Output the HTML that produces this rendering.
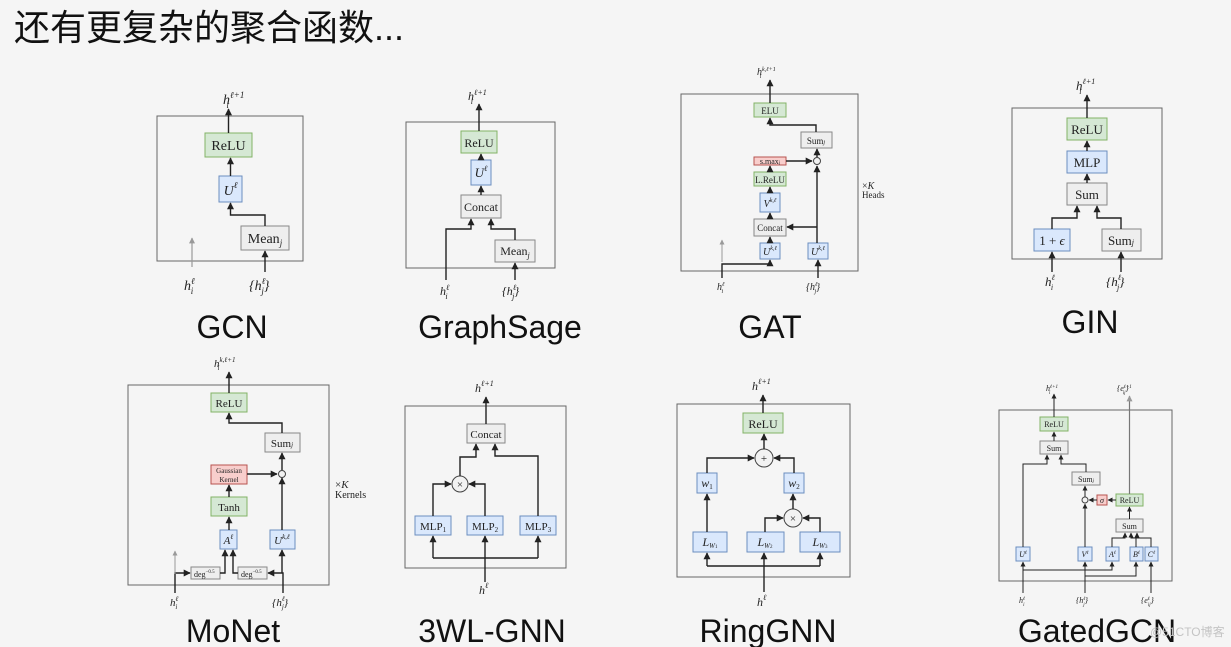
<!DOCTYPE html>
<html><head><meta charset="utf-8">
<style>
html,body{margin:0;padding:0;background:#f5f5f5;}
svg{display:block}
.t{font-family:"Liberation Sans","Noto Sans CJK SC",sans-serif;fill:#111}
.m{font-family:"Liberation Serif",serif;fill:#222}
.i{font-style:italic}
.ln{stroke:#222;stroke-width:1.4;fill:none}
.bx{fill:none;stroke:#666;stroke-width:1}
.g{fill:#d5e8d4;stroke:#82b366;stroke-width:1}
.b{fill:#dae8fc;stroke:#6c8ebf;stroke-width:1}
.y{fill:#eeeeee;stroke:#888;stroke-width:1}
.r{fill:#f8cecc;stroke:#b85450;stroke-width:1}
.c{fill:#f2f2f2;stroke:#444;stroke-width:1}
.cap{font-family:"Liberation Sans",sans-serif;font-size:32px;fill:#111;text-anchor:middle}
</style></head><body>
<svg width="1231" height="647" viewBox="0 0 1231 647" xmlns="http://www.w3.org/2000/svg">
<defs>
<marker id="a" viewBox="0 0 10 10" refX="9" refY="5" markerWidth="5" markerHeight="5" orient="auto-start-reverse"><path d="M0,0L10,5L0,10z" fill="#222"/></marker>
<marker id="ag" viewBox="0 0 10 10" refX="9" refY="5" markerWidth="5" markerHeight="5" orient="auto"><path d="M0,0L10,5L0,10z" fill="#999"/></marker>
</defs>
<rect width="1231" height="647" fill="#f5f5f5"/>
<text class="t" x="14" y="40" font-size="36">还有更复杂的聚合函数...</text>

<!-- GCN -->
<rect class="bx" x="157" y="116" width="146" height="145"/>
<rect class="g" x="205" y="133" width="47" height="24"/><text class="m" x="228.5" y="150" font-size="14" text-anchor="middle">ReLU</text>
<rect class="b" x="219" y="176" width="23" height="26"/><text class="m i" x="230.5" y="195" font-size="14" text-anchor="middle">U<tspan font-size="9" dy="-7">ℓ</tspan></text>
<rect class="y" x="241" y="226" width="48" height="24"/><text class="m" x="265" y="243" font-size="14" text-anchor="middle">Mean<tspan font-size="9" dy="3" font-style="italic">j</tspan></text>
<path class="ln" d="M265,226V215H230.5V203" marker-end="url(#a)"/>
<path class="ln" d="M230.5,176V158" marker-end="url(#a)"/>
<path class="ln" d="M228.5,133V109" marker-end="url(#a)"/>
<path d="M192,267V238" stroke="#999" stroke-width="1.2" marker-end="url(#ag)"/>
<path class="ln" d="M265,272V251" marker-end="url(#a)"/>
<text class="m i" x="223" y="104" font-size="14">h<tspan font-size="9" dy="-6">ℓ+1</tspan><tspan font-size="9" dx="-18" dy="10">i</tspan></text>
<text class="m i" x="184" y="290" font-size="14">h<tspan font-size="9" dy="-6">ℓ</tspan><tspan font-size="9" dx="-4" dy="10">i</tspan></text>
<text class="m i" x="249" y="290" font-size="14">{h<tspan font-size="9" dy="-6">ℓ</tspan><tspan font-size="9" dx="-4" dy="10">j</tspan><tspan dy="-4">}</tspan></text>
<text class="cap" x="232" y="338">GCN</text>

<!-- GraphSage -->
<rect class="bx" x="406" y="122" width="149" height="146"/>
<rect class="g" x="461" y="131" width="36" height="22"/><text class="m" x="479" y="147" font-size="12" text-anchor="middle">ReLU</text>
<rect class="b" x="471" y="160" width="20" height="25"/><text class="m i" x="481" y="177" font-size="13" text-anchor="middle">U<tspan font-size="8" dy="-6">ℓ</tspan></text>
<rect class="y" x="461" y="195" width="40" height="23"/><text class="m" x="481" y="211" font-size="12" text-anchor="middle">Concat</text>
<rect class="y" x="495" y="240" width="40" height="22"/><text class="m" x="515" y="255" font-size="12" text-anchor="middle">Mean<tspan font-size="8" dy="3" font-style="italic">j</tspan></text>
<path class="ln" d="M446,280V229H471V219" marker-end="url(#a)"/>
<path class="ln" d="M515,240V229H491V219" marker-end="url(#a)"/>
<path class="ln" d="M481,195V186" marker-end="url(#a)"/>
<path class="ln" d="M481,160V154" marker-end="url(#a)"/>
<path class="ln" d="M479,131V104" marker-end="url(#a)"/>
<path class="ln" d="M515,280V263" marker-end="url(#a)"/>
<text class="m i" x="468" y="100" font-size="12">h<tspan font-size="8" dy="-5">ℓ+1</tspan><tspan font-size="8" dx="-16" dy="9">i</tspan></text>
<text class="m i" x="440" y="295" font-size="12">h<tspan font-size="8" dy="-5">ℓ</tspan><tspan font-size="8" dx="-4" dy="9">i</tspan></text>
<text class="m i" x="502" y="295" font-size="12">{h<tspan font-size="8" dy="-5">ℓ</tspan><tspan font-size="8" dx="-4" dy="9">j</tspan><tspan dy="-4">}</tspan></text>
<text class="cap" x="500" y="338">GraphSage</text>

<!-- GAT -->
<rect class="bx" x="681" y="94" width="177" height="177"/>
<rect class="g" x="754" y="103" width="32" height="14"/><text class="m" x="770" y="114" font-size="9" text-anchor="middle">ELU</text>
<rect class="y" x="801" y="132" width="31" height="16"/><text class="m" x="816" y="144" font-size="9" text-anchor="middle">Sum<tspan font-size="6" font-style="italic">j</tspan></text>
<rect class="r" x="754" y="157" width="32" height="8"/><text class="m" x="770" y="164" font-size="8" text-anchor="middle">s.max<tspan font-size="5">j</tspan></text>
<rect class="g" x="754" y="172" width="32" height="14"/><text class="m" x="770" y="183" font-size="9" text-anchor="middle">L.ReLU</text>
<rect class="b" x="760" y="193" width="20" height="19"/><text class="m i" x="770" y="207" font-size="10" text-anchor="middle">V<tspan font-size="6" dy="-5">k,ℓ</tspan></text>
<rect class="y" x="754" y="219" width="32" height="17"/><text class="m" x="770" y="231" font-size="9" text-anchor="middle">Concat</text>
<rect class="b" x="760" y="243" width="20" height="16"/><text class="m i" x="770" y="255" font-size="10" text-anchor="middle">U<tspan font-size="6" dy="-5">k,ℓ</tspan></text>
<rect class="b" x="808" y="243" width="20" height="16"/><text class="m i" x="818" y="255" font-size="10" text-anchor="middle">U<tspan font-size="6" dy="-5">k,ℓ</tspan></text>
<circle class="c" cx="817" cy="161" r="3.5"/>
<path class="ln" d="M722,278V264H770V260" marker-end="url(#a)"/>
<path d="M722,262V240" stroke="#999" stroke-width="1" marker-end="url(#ag)"/>
<path class="ln" d="M770,243V237" marker-end="url(#a)"/>
<path class="ln" d="M770,219V213" marker-end="url(#a)"/>
<path class="ln" d="M770,193V187" marker-end="url(#a)"/>
<path class="ln" d="M770,172V166" marker-end="url(#a)"/>
<path class="ln" d="M786,161H812" marker-end="url(#a)"/>
<path class="ln" d="M817,243V166" marker-end="url(#a)"/>
<path class="ln" d="M817,227H787" marker-end="url(#a)"/>
<path class="ln" d="M817,157V149" marker-end="url(#a)"/>
<path class="ln" d="M816,132V125H770V118" marker-end="url(#a)"/>
<path class="ln" d="M770,103V80" marker-end="url(#a)"/>
<path class="ln" d="M818,278V260" marker-end="url(#a)"/>
<text class="m i" x="757" y="75" font-size="10">h<tspan font-size="6" dy="-4">k,ℓ+1</tspan><tspan font-size="6" dx="-16" dy="7">i</tspan></text>
<text class="m i" x="717" y="290" font-size="10">h<tspan font-size="6" dy="-4">ℓ</tspan><tspan font-size="6" dx="-3" dy="7">i</tspan></text>
<text class="m i" x="806" y="290" font-size="10">{h<tspan font-size="6" dy="-4">ℓ</tspan><tspan font-size="6" dx="-3" dy="7">j</tspan><tspan dy="-3">}</tspan></text>
<text class="m" x="862" y="189" font-size="10">×<tspan font-style="italic">K</tspan></text>
<text class="m" x="862" y="198" font-size="9">Heads</text>
<text class="cap" x="770" y="338">GAT</text>

<!-- GIN -->
<rect class="bx" x="1012" y="108" width="150" height="151"/>
<rect class="g" x="1067" y="118" width="40" height="22"/><text class="m" x="1087" y="134" font-size="13" text-anchor="middle">ReLU</text>
<rect class="b" x="1067" y="151" width="40" height="22"/><text class="m" x="1087" y="167" font-size="13" text-anchor="middle">MLP</text>
<rect class="y" x="1067" y="183" width="40" height="22"/><text class="m" x="1087" y="199" font-size="13" text-anchor="middle">Sum</text>
<rect class="b" x="1034" y="229" width="36" height="22"/><text class="m" x="1052" y="245" font-size="13" text-anchor="middle">1 + <tspan font-style="italic">ϵ</tspan></text>
<rect class="y" x="1102" y="229" width="39" height="22"/><text class="m" x="1121" y="245" font-size="13" text-anchor="middle">Sum<tspan font-size="8" font-style="italic">j</tspan></text>
<path class="ln" d="M1052,229V218H1077V206" marker-end="url(#a)"/>
<path class="ln" d="M1121,229V218H1097V206" marker-end="url(#a)"/>
<path class="ln" d="M1087,183V174" marker-end="url(#a)"/>
<path class="ln" d="M1087,151V141" marker-end="url(#a)"/>
<path class="ln" d="M1087,118V95" marker-end="url(#a)"/>
<path class="ln" d="M1052,272V252" marker-end="url(#a)"/>
<path class="ln" d="M1121,272V252" marker-end="url(#a)"/>
<text class="m i" x="1076" y="90" font-size="13">h<tspan font-size="8" dy="-6">ℓ+1</tspan><tspan font-size="8" dx="-16" dy="10">i</tspan></text>
<text class="m i" x="1045" y="286" font-size="13">h<tspan font-size="8" dy="-6">ℓ</tspan><tspan font-size="8" dx="-4" dy="10">i</tspan></text>
<text class="m i" x="1106" y="286" font-size="13">{h<tspan font-size="8" dy="-6">ℓ</tspan><tspan font-size="8" dx="-4" dy="10">j</tspan><tspan dy="-4">}</tspan></text>
<text class="cap" x="1090" y="333">GIN</text>

<!-- MoNet -->
<rect class="bx" x="128" y="385" width="201" height="200"/>
<rect class="g" x="211" y="393" width="36" height="19"/><text class="m" x="229" y="407" font-size="11" text-anchor="middle">ReLU</text>
<rect class="y" x="265" y="433" width="35" height="19"/><text class="m" x="282" y="447" font-size="11" text-anchor="middle">Sum<tspan font-size="7" font-style="italic">j</tspan></text>
<rect class="r" x="211" y="465" width="36" height="19"/><text class="m" x="229" y="473" font-size="7" text-anchor="middle">Gaussian</text><text class="m" x="229" y="482" font-size="7" text-anchor="middle">Kernel</text>
<rect class="g" x="211" y="497" width="36" height="19"/><text class="m" x="229" y="511" font-size="11" text-anchor="middle">Tanh</text>
<rect class="b" x="220" y="530" width="17" height="19"/><text class="m i" x="228.5" y="544" font-size="11" text-anchor="middle">A<tspan font-size="7" dy="-5">ℓ</tspan></text>
<rect class="b" x="270" y="530" width="25" height="19"/><text class="m i" x="282" y="544" font-size="11" text-anchor="middle">U<tspan font-size="7" dy="-5">k,ℓ</tspan></text>
<rect class="y" x="191" y="567" width="29" height="12"/><text class="m" x="194" y="577" font-size="8">deg<tspan font-size="5" dy="-4">−0.5</tspan></text>
<rect class="y" x="238" y="567" width="29" height="12"/><text class="m" x="241" y="577" font-size="8">deg<tspan font-size="5" dy="-4">−0.5</tspan></text>
<circle class="c" cx="282" cy="474" r="3.5"/>
<path class="ln" d="M175,593V573H190" marker-end="url(#a)"/>
<path d="M175,574V551" stroke="#999" stroke-width="1" marker-end="url(#ag)"/>
<path class="ln" d="M220,573H225V550" marker-end="url(#a)"/>
<path class="ln" d="M238,573H233V550" marker-end="url(#a)"/>
<path class="ln" d="M283,593V573H268" marker-end="url(#a)"/>
<path class="ln" d="M282,573V550" marker-end="url(#a)"/>
<path class="ln" d="M282,530V478" marker-end="url(#a)"/>
<path class="ln" d="M229,530V517" marker-end="url(#a)"/>
<path class="ln" d="M229,497V485" marker-end="url(#a)"/>
<path class="ln" d="M247,474H277" marker-end="url(#a)"/>
<path class="ln" d="M282,470V453" marker-end="url(#a)"/>
<path class="ln" d="M282,433V423H229V413" marker-end="url(#a)"/>
<path class="ln" d="M229,393V372" marker-end="url(#a)"/>
<text class="m i" x="214" y="367" font-size="11">h<tspan font-size="7" dy="-5">k,ℓ+1</tspan><tspan font-size="7" dx="-18" dy="8">i</tspan></text>
<text class="m i" x="170" y="606" font-size="11">h<tspan font-size="7" dy="-5">ℓ</tspan><tspan font-size="7" dx="-3" dy="8">i</tspan></text>
<text class="m i" x="272" y="606" font-size="11">{h<tspan font-size="7" dy="-5">ℓ</tspan><tspan font-size="7" dx="-3" dy="8">j</tspan><tspan dy="-3">}</tspan></text>
<text class="m" x="335" y="488" font-size="11">×<tspan font-style="italic">K</tspan></text>
<text class="m" x="335" y="498" font-size="10">Kernels</text>
<text class="cap" x="233" y="642">MoNet</text>

<!-- 3WL-GNN -->
<rect class="bx" x="405" y="406" width="161" height="162"/>
<rect class="y" x="467" y="424" width="38" height="19"/><text class="m" x="486" y="438" font-size="11" text-anchor="middle">Concat</text>
<circle class="c" cx="460" cy="484" r="8"/><text class="m" x="460" y="488" font-size="11" text-anchor="middle">×</text>
<rect class="b" x="415" y="516" width="36" height="19"/><text class="m" x="433" y="530" font-size="11" text-anchor="middle">MLP<tspan font-size="7" dy="2">1</tspan></text>
<rect class="b" x="467" y="516" width="36" height="19"/><text class="m" x="485" y="530" font-size="11" text-anchor="middle">MLP<tspan font-size="7" dy="2">2</tspan></text>
<rect class="b" x="520" y="516" width="36" height="19"/><text class="m" x="538" y="530" font-size="11" text-anchor="middle">MLP<tspan font-size="7" dy="2">3</tspan></text>
<path class="ln" d="M485,582V536" marker-end="url(#a)"/>
<path class="ln" d="M433,558H538" />
<path class="ln" d="M433,558V536" marker-end="url(#a)"/>
<path class="ln" d="M538,558V536" marker-end="url(#a)"/>
<path class="ln" d="M433,516V484H451" marker-end="url(#a)"/>
<path class="ln" d="M485,516V484H469" marker-end="url(#a)"/>
<path class="ln" d="M460,476V457H476V444" marker-end="url(#a)"/>
<path class="ln" d="M538,516V456H495V444" marker-end="url(#a)"/>
<path class="ln" d="M486,424V397" marker-end="url(#a)"/>
<text class="m i" x="475" y="392" font-size="12">h<tspan font-size="8" dy="-6">ℓ+1</tspan></text>
<text class="m i" x="479" y="594" font-size="12">h<tspan font-size="8" dy="-6">ℓ</tspan></text>
<text class="cap" x="492" y="642">3WL-GNN</text>

<!-- RingGNN -->
<rect class="bx" x="677" y="404" width="173" height="173"/>
<rect class="g" x="743" y="413" width="40" height="20"/><text class="m" x="763" y="428" font-size="12" text-anchor="middle">ReLU</text>
<circle class="c" cx="764" cy="458" r="9"/><text class="m" x="764" y="462" font-size="11" text-anchor="middle">+</text>
<rect class="b" x="697" y="473" width="20" height="20"/><text class="m i" x="707" y="487" font-size="12" text-anchor="middle">w<tspan font-size="7" dy="2" font-style="normal">1</tspan></text>
<rect class="b" x="784" y="473" width="20" height="20"/><text class="m i" x="794" y="487" font-size="12" text-anchor="middle">w<tspan font-size="7" dy="2" font-style="normal">2</tspan></text>
<circle class="c" cx="793" cy="518" r="9"/><text class="m" x="793" y="522" font-size="11" text-anchor="middle">×</text>
<rect class="b" x="693" y="532" width="34" height="20"/><text class="m i" x="710" y="546" font-size="12" text-anchor="middle">L<tspan font-size="7" dy="2">W<tspan font-size="5" font-style="normal">1</tspan></tspan></text>
<rect class="b" x="747" y="532" width="37" height="20"/><text class="m i" x="765" y="546" font-size="12" text-anchor="middle">L<tspan font-size="7" dy="2">W<tspan font-size="5" font-style="normal">2</tspan></tspan></text>
<rect class="b" x="800" y="532" width="40" height="20"/><text class="m i" x="820" y="546" font-size="12" text-anchor="middle">L<tspan font-size="7" dy="2">W<tspan font-size="5" font-style="normal">3</tspan></tspan></text>
<path class="ln" d="M764,592V553" marker-end="url(#a)"/>
<path class="ln" d="M707,566H820"/>
<path class="ln" d="M707,566V553" marker-end="url(#a)"/>
<path class="ln" d="M820,566V553" marker-end="url(#a)"/>
<path class="ln" d="M707,532V494" marker-end="url(#a)"/>
<path class="ln" d="M765,532V518H783" marker-end="url(#a)"/>
<path class="ln" d="M820,532V518H803" marker-end="url(#a)"/>
<path class="ln" d="M793,509V494" marker-end="url(#a)"/>
<path class="ln" d="M707,473V458H754" marker-end="url(#a)"/>
<path class="ln" d="M794,473V458H774" marker-end="url(#a)"/>
<path class="ln" d="M764,449V434" marker-end="url(#a)"/>
<path class="ln" d="M763,413V395" marker-end="url(#a)"/>
<text class="m i" x="752" y="390" font-size="12">h<tspan font-size="8" dy="-6">ℓ+1</tspan></text>
<text class="m i" x="757" y="606" font-size="12">h<tspan font-size="8" dy="-6">ℓ</tspan></text>
<text class="cap" x="768" y="642">RingGNN</text>

<!-- GatedGCN -->
<rect class="bx" x="999" y="410" width="173" height="171"/>
<rect class="g" x="1040" y="417" width="28" height="14"/><text class="m" x="1054" y="427" font-size="8" text-anchor="middle">ReLU</text>
<rect class="y" x="1040" y="441" width="28" height="13"/><text class="m" x="1054" y="451" font-size="8" text-anchor="middle">Sum</text>
<rect class="y" x="1072" y="472" width="28" height="13"/><text class="m" x="1086" y="482" font-size="8" text-anchor="middle">Sum<tspan font-size="5" font-style="italic">j</tspan></text>
<circle class="c" cx="1085" cy="500" r="3"/>
<rect class="r" x="1097" y="495" width="10" height="10"/><text class="m i" x="1102" y="503" font-size="8" text-anchor="middle">σ</text>
<rect class="g" x="1116" y="494" width="27" height="12"/><text class="m" x="1129.5" y="503" font-size="8" text-anchor="middle">ReLU</text>
<rect class="y" x="1116" y="519" width="27" height="13"/><text class="m" x="1129.5" y="529" font-size="8" text-anchor="middle">Sum</text>
<rect class="b" x="1016" y="547" width="14" height="14"/><text class="m i" x="1023" y="557" font-size="8" text-anchor="middle">U<tspan font-size="5" dy="-3">ℓ</tspan></text>
<rect class="b" x="1078" y="547" width="14" height="14"/><text class="m i" x="1085" y="557" font-size="8" text-anchor="middle">V<tspan font-size="5" dy="-3">ℓ</tspan></text>
<rect class="b" x="1106" y="547" width="13" height="14"/><text class="m i" x="1112.5" y="557" font-size="8" text-anchor="middle">A<tspan font-size="5" dy="-3">ℓ</tspan></text>
<rect class="b" x="1130" y="547" width="13" height="14"/><text class="m i" x="1136.5" y="557" font-size="8" text-anchor="middle">B<tspan font-size="5" dy="-3">ℓ</tspan></text>
<rect class="b" x="1145" y="547" width="13" height="14"/><text class="m i" x="1151.5" y="557" font-size="8" text-anchor="middle">C<tspan font-size="5" dy="-3">ℓ</tspan></text>
<g stroke-width="1">
<path class="ln" style="stroke-width:1" d="M1023,593V562" marker-end="url(#a)"/>
<path class="ln" style="stroke-width:1" d="M1023,570H1112V562" marker-end="url(#a)"/>
<path class="ln" style="stroke-width:1" d="M1085,593V562" marker-end="url(#a)"/>
<path class="ln" style="stroke-width:1" d="M1085,576H1136V562" marker-end="url(#a)"/>
<path class="ln" style="stroke-width:1" d="M1151,593V562" marker-end="url(#a)"/>
<path class="ln" style="stroke-width:1" d="M1112,547V538H1125V533" marker-end="url(#a)"/>
<path class="ln" style="stroke-width:1" d="M1136,547V538H1131V533" marker-end="url(#a)"/>
<path class="ln" style="stroke-width:1" d="M1151,547V538H1137V533" marker-end="url(#a)"/>
<path class="ln" style="stroke-width:1" d="M1129.5,519V507" marker-end="url(#a)"/>
<path class="ln" style="stroke-width:1" d="M1116,500H1108" marker-end="url(#a)"/>
<path class="ln" style="stroke-width:1" d="M1097,500H1089" marker-end="url(#a)"/>
<path class="ln" style="stroke-width:1" d="M1085,547V504" marker-end="url(#a)"/>
<path class="ln" style="stroke-width:1" d="M1085,497V486" marker-end="url(#a)"/>
<path class="ln" style="stroke-width:1" d="M1023,547V464H1047V455" marker-end="url(#a)"/>
<path class="ln" style="stroke-width:1" d="M1086,472V464H1061V455" marker-end="url(#a)"/>
<path class="ln" style="stroke-width:1" d="M1054,441V432" marker-end="url(#a)"/>
<path class="ln" style="stroke-width:1" d="M1054,417V394" marker-end="url(#a)"/>
<path style="stroke:#777;stroke-width:1.2;fill:none" d="M1129.5,494V396" marker-end="url(#ag)"/>
</g>
<text class="m i" x="1046" y="391" font-size="8">h<tspan font-size="5" dy="-3">ℓ+1</tspan><tspan font-size="5" dx="-9" dy="6">i</tspan></text>
<text class="m i" x="1117" y="391" font-size="8">{e<tspan font-size="5" dy="-3">ℓ+1</tspan><tspan font-size="5" dx="-9" dy="6">ij</tspan><tspan dy="-3">}</tspan></text>
<text class="m i" x="1019" y="603" font-size="8">h<tspan font-size="5" dy="-3">ℓ</tspan><tspan font-size="5" dx="-2" dy="6">i</tspan></text>
<text class="m i" x="1076" y="603" font-size="8">{h<tspan font-size="5" dy="-3">ℓ</tspan><tspan font-size="5" dx="-2" dy="6">j</tspan><tspan dy="-3">}</tspan></text>
<text class="m i" x="1141" y="603" font-size="8">{e<tspan font-size="5" dy="-3">ℓ</tspan><tspan font-size="5" dx="-2" dy="6">ij</tspan><tspan dy="-3">}</tspan></text>
<text class="cap" x="1097" y="642">GatedGCN</text>
<text class="t" x="1150" y="636" font-size="12" style="fill:#c4c4c4">@51CTO博客</text>
</svg>
</body></html>
